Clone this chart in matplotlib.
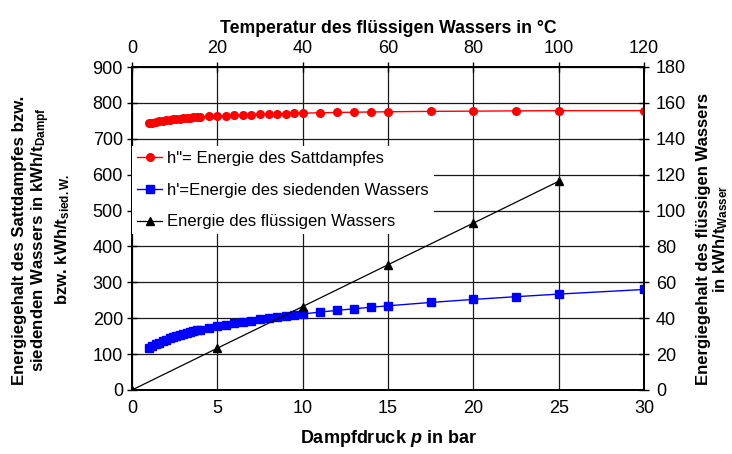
import matplotlib
matplotlib.use("Agg")
import matplotlib.pyplot as plt

plt.rcParams['font.family'] = ['Liberation Sans', 'DejaVu Sans']
plt.rcParams['mathtext.fontset'] = 'custom'
plt.rcParams['mathtext.rm'] = 'Liberation Sans:bold'
plt.rcParams['mathtext.it'] = 'Liberation Sans:bold:italic'
plt.rcParams['mathtext.bf'] = 'Liberation Sans:bold'

# Dampfdruck in bar
pressure = [1.0, 1.2, 1.4, 1.6, 1.8, 2.0, 2.2, 2.4, 2.6, 2.8, 3.0, 3.2, 3.4, 3.6, 3.8, 4.0,
            4.5, 5.0, 5.5, 6.0, 6.5, 7.0, 7.5, 8.0, 8.5, 9.0, 9.5, 10,
            11, 12, 13, 14, 15, 17.5, 20, 22.5, 25, 30]
# h'' Sattdampf, kWh/t
h_steam = [743.1, 745.3, 747.2, 748.9, 750.4, 751.7, 752.9, 754.1, 755.1, 756.0, 756.9, 757.8,
           758.5, 759.3, 759.9, 760.6, 762.1, 763.4, 764.5, 765.6, 766.6, 767.4, 768.2, 769.0,
           769.7, 770.3, 770.9, 771.4, 772.4, 773.3, 774.0, 774.7, 775.3, 776.4, 777.0, 777.8,
           778.3, 778.4]
# h' siedendes Wasser, kWh/t
h_boil = [115.9, 122.0, 127.3, 132.0, 136.3, 140.2, 143.8, 147.1, 150.3, 153.2, 155.9, 158.6,
          161.1, 163.5, 165.8, 168.0, 173.1, 177.8, 182.2, 186.2, 190.0, 193.6, 197.0, 200.3,
          203.3, 206.3, 209.1, 211.8, 217.0, 221.8, 226.3, 230.6, 234.6, 244.0, 252.4, 260.0,
          267.2, 280.1]
# flüssiges Wasser: Temperatur in °C, Energie in kWh/t
temperature = [0, 20, 40, 60, 80, 100]
h_water = [0.0, 23.3, 46.5, 69.8, 93.0, 116.3]

fig = plt.figure(figsize=(7.32, 4.54), dpi=100)
ax = fig.add_axes([132/732, 1-390/454, 512/732, 323/454])
ax2 = ax.twinx()
ax3 = ax2.twiny()

l1, = ax.plot(pressure, h_steam, color='#FF0000', marker='o', markersize=5.5, lw=1,
              label='h"= Energie des Sattdampfes', zorder=3)
l2, = ax.plot(pressure, h_boil, color='#0000FF', marker='s', markersize=5.2, lw=1,
              label="h'=Energie des siedenden Wassers", zorder=3)
l3, = ax3.plot(temperature, h_water, color='black', marker='^', markersize=5.5, lw=0.9,
               label='Energie des flüssigen Wassers', zorder=3)

ax.set_xlim(0, 30)
ax.set_ylim(0, 900)
ax.set_xticks(range(0, 31, 5))
ax.set_yticks(range(0, 901, 100))
ax2.set_ylim(0, 180)
ax2.set_yticks(range(0, 181, 20))
ax3.set_xlim(0, 120)
ax3.set_xticks(range(0, 121, 20))

ax.grid(True, color='#1a1a1a', lw=0.9)
for a in (ax, ax2, ax3):
    for s in a.spines.values():
        s.set_linewidth(1.4)
        s.set_color('black')
ax.tick_params(axis='both', labelsize=13, direction='inout', length=7, width=1, pad=3)
ax.tick_params(axis='x', length=0, pad=7)
ax2.tick_params(axis='y', labelsize=13, direction='inout', length=7, width=1, pad=5)
ax3.tick_params(axis='x', labelsize=13, direction='inout', length=7, width=1, pad=4)

ax.set_xlabel('Dampfdruck $p$ in bar', fontsize=13, fontweight='bold', labelpad=8)
ax3.set_xlabel('Temperatur des flüssigen Wassers in °C', fontsize=12.7, fontweight='bold', labelpad=5)
ax.set_ylabel('Energiegehalt des Sattdampfes bzw.\nsiedenden Wassers in kWh/$\\mathrm{t_{Dampf}}$\n'
              'bzw. kWh/$\\mathrm{t_{sied.W.}}$', fontsize=12.1, fontweight='bold',
              linespacing=1.12)
ax.yaxis.set_label_coords((72 - 132) / 512, (390 - 240) / 323)
ax2.set_ylabel('Energiegehalt des flüssigen Wassers\nin kWh/$\\mathrm{t_{Wasser}}$',
               fontsize=12, fontweight='bold', linespacing=1.05)
ax2.yaxis.set_label_coords((696 - 132) / 512, (390 - 239) / 323)

leg = ax3.legend([l1, l2, l3], [l.get_label() for l in (l1, l2, l3)],
                 loc='upper left', bbox_to_anchor=(0.0, 0.755), frameon=True, fancybox=False,
                 edgecolor='none', facecolor='white', framealpha=1, fontsize=12,
                 handlelength=1.5, handletextpad=0.3, labelspacing=1.0, numpoints=1,
                 borderaxespad=0, borderpad=0.3)
ax3.set_zorder(5)
ax3.patch.set_visible(False)

fig.savefig('out.png', dpi=100)
